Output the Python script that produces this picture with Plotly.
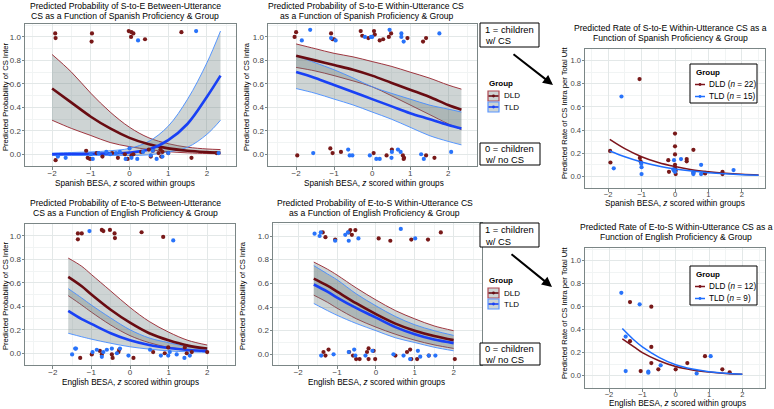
import plotly.graph_objects as go

W, H = 774, 409

# ---------------- data ----------------
# top left: S-to-E between-utterance CS (probability)
tl_x = [-2.0, -1.5, -1.0, -0.5, 0.0, 0.5, 1.0, 1.5, 2.0, 2.35]
tl_dld_fit = [0.56, 0.44, 0.32, 0.22, 0.14, 0.085, 0.05, 0.03, 0.018, 0.012]
tl_dld_lo = [0.29, 0.22, 0.16, 0.10, 0.065, 0.04, 0.022, 0.012, 0.006, 0.004]
tl_dld_hi = [0.85, 0.70, 0.52, 0.36, 0.23, 0.14, 0.09, 0.06, 0.045, 0.04]
tl_tld_fit = [0.0, 0.002, 0.004, 0.008, 0.015, 0.04, 0.12, 0.26, 0.49, 0.67]
tl_tld_lo = [-0.01, -0.01, -0.01, -0.01, -0.01, -0.005, 0.02, 0.06, 0.17, 0.29]
tl_tld_hi = [0.01, 0.015, 0.02, 0.03, 0.05, 0.11, 0.24, 0.47, 0.78, 1.05]
tl_dld_px = [-1.92, -1.91, -0.97, -0.98, -0.02, 0.05, 0.10, 0.04, 0.40, 1.34,
             -1.91, -1.12, -1.08, -1.02, -0.85, -0.70, -0.45, -0.30, -0.12, -0.05, 0.05,
             0.10, 0.30, 0.50, 0.55, 0.60, 0.75, 0.80, 0.82, 0.85, 1.00, 1.60, 2.25]
tl_dld_py = [1.03, 0.99, 1.03, 0.96, 1.05, 1.04, 1.03, 1.00, 0.98, 1.04,
             -0.05, 0.03, -0.03, -0.04, 0.01, -0.02, 0.01, -0.03, 0.00, -0.04, -0.01,
             0.00, 0.02, 0.04, -0.02, 0.03, 0.01, 0.04, -0.02, 0.02, 0.01, -0.03, 0.01]
tl_tld_px = [0.22, 1.72,
             -1.85, -1.65, -1.00, -0.95, -0.80, -0.60, -0.50, -0.35, -0.25, -0.10,
             0.00, 0.05, 0.20, 0.35, 0.55, 0.60, 0.70, 0.85, 1.00, 2.30]
tl_tld_py = [0.97, 1.05,
             -0.02, -0.03, 0.00, -0.04, 0.01, 0.02, 0.00, 0.01, 0.02, -0.04,
             0.05, -0.03, -0.04, 0.02, -0.01, 0.03, -0.04, -0.02, 0.01, 0.01]

# top middle: S-to-E within-utterance CS (probability)
tm_x = [-2.0, -1.5, -1.0, -0.5, 0.0, 0.5, 1.0, 1.5, 2.0, 2.35]
tm_dld_fit = [0.84, 0.80, 0.76, 0.72, 0.67, 0.61, 0.55, 0.49, 0.42, 0.38]
tm_dld_hi = [0.94, 0.90, 0.86, 0.83, 0.79, 0.75, 0.70, 0.65, 0.59, 0.555]
tm_dld_lo = [0.74, 0.71, 0.67, 0.625, 0.575, 0.50, 0.42, 0.34, 0.26, 0.21]
tm_tld_fit = [0.70, 0.65, 0.59, 0.53, 0.47, 0.41, 0.35, 0.30, 0.25, 0.22]
tm_tld_hi = [0.84, 0.78, 0.72, 0.65, 0.575, 0.52, 0.47, 0.42, 0.385, 0.36]
tm_tld_lo = [0.56, 0.52, 0.47, 0.42, 0.36, 0.30, 0.23, 0.16, 0.11, 0.08]
tm_dld_px = [-2.04, -2.00, -1.08, -1.04, -1.00, -0.30, -0.26, -0.10, 0.05, 0.07, 0.20,
             0.29, 0.44, 0.50, 0.93, 1.34, 1.42,
             -1.97, -1.10, -1.04, -0.82, 0.04, 0.38, 0.52, 0.81, 0.84, 0.83, 1.42, 1.64]
tm_dld_py = [1.00, 1.04, 1.03, 0.98, 0.98, 1.05, 1.01, 0.99, 1.05, 1.02, 0.97,
             0.98, 1.00, 1.03, 0.99, 0.96, 0.99,
             -0.01, 0.05, 0.01, 0.02, 0.01, -0.01, 0.04, -0.01, -0.03, -0.04, -0.01, -0.03]
tm_tld_px = [-1.85, -1.63, -1.08, -0.96, -0.19, -0.03, 0.00, 0.46, 0.77, 0.77, 0.83, 1.77,
             -1.55, -0.63, -0.59, -0.52, -0.06, 0.11, 0.20, 0.51, 0.52, 0.68, 0.75,
             1.29, 1.36, 2.08]
tm_tld_py = [0.97, 1.06, 0.99, 0.97, 1.00, 1.00, 1.00, 1.06, 1.03, 1.00, 0.96, 1.03,
             0.01, 0.04, -0.01, -0.01, -0.01, -0.04, -0.04, -0.03, 0.02, 0.04, 0.02,
             0.00, -0.04, 0.02]

# top right: S-to-E within-utterance CS (rate)
tr_x = [-1.95, -1.5, -1.0, -0.5, 0.0, 0.5, 1.0, 1.5, 2.0, 2.5]
tr_dld_fit = [0.32, 0.24, 0.17, 0.12, 0.085, 0.058, 0.04, 0.027, 0.018, 0.012]
tr_tld_fit = [0.22, 0.17, 0.125, 0.09, 0.065, 0.046, 0.032, 0.022, 0.015, 0.011]
tr_dld_px = [-1.94, -1.93, -1.06, -1.05, -1.03, -0.20, -0.18, 0.00, 0.00, 0.00, 0.00,
             0.00, 0.02, 0.02, 0.35, 0.35, 0.55, 0.55, 0.90, 0.90, 1.42, 1.42]
tr_dld_py = [0.22, 0.12, 0.84, 0.16, 0.13, 0.14, 0.04, 0.37, 0.26, 0.19, 0.10,
             0.07, 0.05, 0.02, 0.15, 0.13, 0.23, 0.03, 0.03, 0.025, 0.04, 0.02]
tr_tld_px = [-1.60, -1.83, -1.01, -1.00, -1.00, -0.05, -0.03, -0.03, 0.00, 0.18,
             0.55, 0.55, 0.78, 0.78, 1.75]
tr_tld_py = [0.69, 0.07, 0.11, 0.08, 0.02, 0.06, 0.14, 0.05, 0.04, 0.15,
             0.035, 0.02, 0.10, 0.02, 0.055]

# bottom left: E-to-S between-utterance CS (probability)
bl_x = [-1.6, -1.25, -1.0, -0.5, 0.0, 0.5, 1.0, 1.5, 2.0]
bl_dld_fit = [0.65, 0.57, 0.50, 0.37, 0.26, 0.17, 0.11, 0.065, 0.04]
bl_dld_hi = [0.81, 0.74, 0.67, 0.53, 0.39, 0.27, 0.18, 0.11, 0.07]
bl_dld_lo = [0.49, 0.41, 0.35, 0.24, 0.15, 0.09, 0.05, 0.03, 0.015]
bl_tld_fit = [0.36, 0.29, 0.25, 0.17, 0.11, 0.07, 0.045, 0.028, 0.018]
bl_tld_hi = [0.55, 0.47, 0.41, 0.30, 0.20, 0.13, 0.09, 0.055, 0.035]
bl_tld_lo = [0.17, 0.14, 0.12, 0.085, 0.055, 0.035, 0.02, 0.012, 0.008]
bl_dld_px = [-1.35, -1.35, -1.25, -0.73, -0.69, -0.52, -0.40, -0.39, 0.30, 0.86,
             -1.29, -0.99, -0.78, -0.73, -0.47, -0.45, -0.30, -0.28, 0.09, 0.60,
             0.90, 0.99, 1.42, 1.47, 1.60, 2.00]
bl_dld_py = [1.02, 0.97, 1.02, 1.05, 1.04, 1.05, 1.02, 0.98, 1.03, 0.99,
             -0.04, -0.01, 0.02, -0.01, -0.01, -0.04, 0.01, 0.03, -0.04, 0.01,
             0.00, 0.05, 0.05, 0.00, 0.01, 0.01]
bl_tld_px = [-1.05, 1.12,
             -1.50, -1.42, -1.40, -0.97, -0.86, -0.73, -0.69, -0.60, -0.47, -0.34,
             -0.26, -0.04, 0.52, 0.80, 0.99, 1.03, 1.21, 1.41, 1.55]
bl_tld_py = [1.04, 0.96,
             -0.01, 0.04, 0.04, 0.01, 0.03, -0.03, 0.01, 0.03, 0.04, 0.00,
             0.04, -0.02, 0.03, -0.02, -0.02, 0.01, -0.01, -0.04, -0.02]

# bottom middle: E-to-S within-utterance CS (probability)
bm_x = [-1.6, -1.25, -1.0, -0.5, 0.0, 0.5, 1.0, 1.5, 2.0]
bm_dld_fit = [0.64, 0.58, 0.53, 0.43, 0.34, 0.26, 0.20, 0.155, 0.12]
bm_dld_hi = [0.78, 0.72, 0.67, 0.56, 0.46, 0.37, 0.30, 0.24, 0.20]
bm_dld_lo = [0.50, 0.44, 0.39, 0.30, 0.23, 0.17, 0.12, 0.08, 0.05]
bm_tld_fit = [0.59, 0.53, 0.48, 0.39, 0.31, 0.23, 0.17, 0.125, 0.095]
bm_tld_hi = [0.75, 0.68, 0.63, 0.51, 0.41, 0.32, 0.25, 0.20, 0.16]
bm_tld_lo = [0.43, 0.37, 0.33, 0.26, 0.20, 0.14, 0.10, 0.06, 0.03]
bm_dld_px = [-1.37, -1.30, -1.05, -0.70, -0.66, -0.62, -0.53, 0.07, 0.37, 0.91, 1.34, 1.67,
             -1.35, -1.30, -1.22, -0.69, -0.59, -0.51, -0.42, -0.23, -0.19, -0.19, -0.06,
             -0.02, 0.50, 0.80, 0.88, 0.91, 1.06, 1.36, 2.03]
bm_dld_py = [1.03, 0.99, 0.97, 1.03, 1.05, 1.01, 1.05, 0.98, 0.96, 0.97, 0.97, 1.03,
             0.02, -0.01, 0.04, 0.02, -0.01, -0.04, -0.04, 0.02, 0.05, -0.04, 0.03,
             -0.04, -0.01, 0.02, 0.04, -0.04, -0.04, -0.01, -0.04]
bm_tld_px = [-1.58, -1.45, -1.42, -1.05, -0.79, -0.72, -0.70, -0.45, 0.64, 1.01,
             -1.41, -1.09, -0.70, -0.56, -0.53, -0.27, -0.09, 0.45, 0.71, 0.88, 1.08,
             1.14, 1.36, 1.53]
bm_tld_py = [1.02, 1.00, 1.03, 0.96, 1.01, 1.03, 0.96, 0.98, 1.06, 0.98,
             -0.01, 0.00, 0.02, 0.04, -0.01, -0.01, 0.03, 0.00, -0.01, -0.04, 0.03,
             -0.02, -0.01, -0.01]

# bottom right: E-to-S within-utterance CS (rate)
br_x = [-1.6, -1.25, -1.0, -0.5, 0.0, 0.5, 1.0, 1.5, 2.0]
br_dld_fit = [0.32, 0.25, 0.20, 0.13, 0.08, 0.05, 0.032, 0.02, 0.013]
br_tld_fit = [0.41, 0.31, 0.25, 0.16, 0.095, 0.058, 0.035, 0.021, 0.013]
br_dld_px = [-1.37, -0.73, -1.37, -0.73, -1.05, -0.73, -0.52, 0.00, 0.35, 0.88, 1.40, 1.62]
br_dld_py = [0.64, 0.60, 0.30, 0.25, 0.04, 0.11, 0.055, 0.055, 0.11, 0.17, 0.055, 0.03]
br_tld_px = [-1.63, -1.08, -1.50, -1.50, -0.82, -0.82, -0.45, 0.63, 1.05]
br_tld_py = [0.72, 0.62, 0.34, 0.04, 0.026, 0.035, 0.09, 0.02, 0.17]

# ---------------- styling ----------------
FONT = "Liberation Sans, Arial, sans-serif"
DLD_FIT, DLD_BND, DLD_PT = "rgb(105,12,18)", "rgb(150,35,45)", "rgb(120,25,25)"
TLD_FIT, TLD_BND, TLD_PT = "rgb(25,65,245)", "rgb(70,140,255)", "rgb(40,115,250)"
RIBBON = "rgba(105,125,125,0.33)"


def fx(p):
    return p / W


def fy(p):
    return 1 - p / H


fig = go.Figure()


def add_ribbon(xa, ya, x, lo, hi, bnd):
    fig.add_trace(go.Scatter(x=x, y=lo, mode="lines", xaxis=xa, yaxis=ya,
                             line=dict(color=bnd, width=0.9, shape="spline"), hoverinfo="skip"))
    fig.add_trace(go.Scatter(x=x, y=hi, mode="lines", xaxis=xa, yaxis=ya, fill="tonexty",
                             fillcolor=RIBBON, line=dict(color=bnd, width=0.9, shape="spline"),
                             hoverinfo="skip"))


def add_fit(xa, ya, x, y, col, w):
    fig.add_trace(go.Scatter(x=x, y=y, mode="lines", xaxis=xa, yaxis=ya,
                             line=dict(color=col, width=w, shape="spline")))


def add_pts(xa, ya, x, y, col):
    fig.add_trace(go.Scatter(x=x, y=y, mode="markers", xaxis=xa, yaxis=ya,
                             marker=dict(color=col, size=4.2)))


# probability panels
for xa, ya, x, d, dl, dh, t, tlo, thi, dpx, dpy, tpx, tpy in [
    ("x", "y", tl_x, tl_dld_fit, tl_dld_lo, tl_dld_hi, tl_tld_fit, tl_tld_lo, tl_tld_hi,
     tl_dld_px, tl_dld_py, tl_tld_px, tl_tld_py),
    ("x2", "y2", tm_x, tm_dld_fit, tm_dld_lo, tm_dld_hi, tm_tld_fit, tm_tld_lo, tm_tld_hi,
     tm_dld_px, tm_dld_py, tm_tld_px, tm_tld_py),
    ("x4", "y4", bl_x, bl_dld_fit, bl_dld_lo, bl_dld_hi, bl_tld_fit, bl_tld_lo, bl_tld_hi,
     bl_dld_px, bl_dld_py, bl_tld_px, bl_tld_py),
    ("x5", "y5", bm_x, bm_dld_fit, bm_dld_lo, bm_dld_hi, bm_tld_fit, bm_tld_lo, bm_tld_hi,
     bm_dld_px, bm_dld_py, bm_tld_px, bm_tld_py),
]:
    add_ribbon(xa, ya, x, dl, dh, DLD_BND)
    add_ribbon(xa, ya, x, tlo, thi, TLD_BND)
    add_fit(xa, ya, x, d, DLD_FIT, 2.6)
    add_fit(xa, ya, x, t, TLD_FIT, 2.6)
    add_pts(xa, ya, dpx, dpy, DLD_PT)
    add_pts(xa, ya, tpx, tpy, TLD_PT)

# rate panels
for xa, ya, x, d, t, dpx, dpy, tpx, tpy in [
    ("x3", "y3", tr_x, tr_dld_fit, tr_tld_fit, tr_dld_px, tr_dld_py, tr_tld_px, tr_tld_py),
    ("x6", "y6", br_x, br_dld_fit, br_tld_fit, br_dld_px, br_dld_py, br_tld_px, br_tld_py),
]:
    add_pts(xa, ya, dpx, dpy, DLD_PT)
    add_pts(xa, ya, tpx, tpy, TLD_PT)
    add_fit(xa, ya, x, d, "rgb(125,20,28)", 1.5)
    add_fit(xa, ya, x, t, "rgb(30,110,255)", 1.5)

# panel boxes in pixels: (left, top, right, bottom), x range, y range, rate panel?
panels = [
    ((25, 24, 236, 166), [-2.70, 2.75], [-0.10, 1.11], False),
    ((268, 24, 477, 166), [-2.74, 2.76], [-0.10, 1.11], False),
    ((585, 49, 765, 188), [-2.69, 2.69], [-0.10, 1.10], True),
    ((25, 224, 235, 365), [-2.72, 2.72], [-0.10, 1.10], False),
    ((273, 223, 482, 365), [-2.65, 2.73], [-0.09, 1.11], False),
    ((585, 248, 765, 388), [-2.72, 2.68], [-0.107, 1.11], True),
]

layout = {}
for i, (box, xr, yr, rate) in enumerate(panels, start=1):
    l, t, r, b = box
    sfx = "" if i == 1 else str(i)
    common = dict(showgrid=True, gridcolor="#e3e8e8", gridwidth=0.8,
                  showline=True, mirror=True, linecolor="#7b8686", linewidth=1,
                  ticks="outside", ticklen=2.5, tickcolor="#7b8686", zeroline=False,
                  tickfont=dict(size=7.6 if rate else 8, color="#444444", family=FONT))
    layout["xaxis" + sfx] = dict(common, domain=[fx(l), fx(r)], range=xr, anchor="y" + sfx,
                                 tick0=0, dtick=1, ticklabelstandoff=-4 if rate else -3,
                                 minor=dict(dtick=0.5, showgrid=True, gridcolor="#f1f4f4"))
    layout["yaxis" + sfx] = dict(common, domain=[fy(b), fy(t)], range=yr, anchor="x" + sfx,
                                 tick0=0, dtick=0.2, tickformat=".1f", ticklabelstandoff=-1,
                                 minor=dict(dtick=0.1, showgrid=True, gridcolor="#f1f4f4"))

annotations = []
shapes = []


def text(x, y, s, size, anchor="left", bold=False, angle=0):
    annotations.append(dict(x=fx(x), y=fy(y), xref="paper", yref="paper",
                            text=("<b>%s</b>" % s) if bold else s, showarrow=False,
                            xanchor=anchor, yanchor="middle", textangle=angle,
                            font=dict(size=size, color="black", family=FONT)))


# titles (one annotation per line)
titles = [
    (125, 6, "Predicted Probability of S-to-E Between-Utterance"),
    (125, 16, "CS as a Function of Spanish Proficiency & Group"),
    (366, 6, "Predicted Probability of S-to-E Within-Utterance CS"),
    (367, 16, "as a Function of Spanish Proficiency & Group"),
    (670, 28, "Predicted Rate of S-to-E Within-Utterance CS as a"),
    (670, 38, "Function of Spanish Proficiency & Group"),
    (125, 203, "Predicted Probability of E-to-S Between-Utterance"),
    (125, 213, "CS as a Function of English Proficiency & Group"),
    (375, 203, "Predicted Probability of E-to-S Within-Utterance CS"),
    (374, 213, "as a Function of English Proficiency & Group"),
    (676, 227, "Predicted Rate of E-to-S Within-Utterance CS as a"),
    (676, 237, "Function of English Proficiency & Group"),
]
for cx, cy, txt in titles:
    text(cx, cy, txt, 8.6, anchor="center")

# axis titles
sp_title = "Spanish BESA, <i>z</i> scored within groups"
en_title = "English BESA, <i>z</i> scored within groups"
for cx, cy, txt in [(125, 183, sp_title), (374, 183, sp_title), (675, 203, sp_title),
                    (130, 382, en_title), (376, 382, en_title), (677, 403.2, en_title)]:
    text(cx, cy, txt, 8.2, anchor="center")
for cx, cy, txt in [(5, 97, "Predicted Probability of CS Inter"),
                    (246, 97, "Predicted Probability of CS Intra"),
                    (564, 113, "Predicted Rate of CS Intra per Total Utt"),
                    (5, 296, "Predicted Probability of CS Inter"),
                    (242, 296, "Predicted Probability of CS Intra"),
                    (564, 313, "Predicted Rate of CS Intra per Total Utt")]:
    text(cx, cy, txt, 7.6, anchor="center", angle=-90)


def rect(l, t, r, b, line="black", fill="white", w=1):
    shapes.append(dict(type="rect", xref="paper", yref="paper", x0=fx(l), x1=fx(r),
                       y0=fy(b), y1=fy(t), line=dict(color=line, width=w), fillcolor=fill))


def hline(x0, x1, y, col, w):
    shapes.append(dict(type="line", xref="paper", yref="paper", x0=fx(x0), x1=fx(x1),
                       y0=fy(y), y1=fy(y), line=dict(color=col, width=w)))


def dot(x, y, col, r=1.6):
    shapes.append(dict(type="circle", xref="paper", yref="paper", x0=fx(x - r), x1=fx(x + r),
                       y0=fy(y + r), y1=fy(y - r), line=dict(width=0), fillcolor=col))


# "1 = children" / "0 = children" boxes, group keys and arrows beside the middle panels
for top, key_y, zero_top, arrow in [(23, 83, 143, (512, 53, 553, 85)),
                                    (223, 280, 343, (510, 253, 552, 287))]:
    rect(480, top, 539, top + 24)
    text(483, top + 6.5, "1 = children", 9.4)
    text(483, top + 18, "w/ CS", 9.4)
    rect(480, zero_top, 540, zero_top + 22)
    text(483, zero_top + 5.5, "0 = children", 9.4)
    text(483, zero_top + 16.5, "w/ no CS", 9.4)
    text(487, key_y, "Group", 8, bold=True)
    for k, (bnd, fit) in enumerate([("rgb(175,70,80)", DLD_FIT), ("rgb(90,150,255)", TLD_FIT)]):
        kt = key_y + 8 + k * 11
        rect(488, kt, 499, kt + 10, line=bnd, fill="rgb(205,212,212)", w=1.2)
        hline(488.5, 498.5, kt + 5, fit, 1.6)
        dot(493.5, kt + 5, fit, 1.4)
        text(502, kt + 5, ["DLD", "TLD"][k], 8)
    ax0, ay0, ax1, ay1 = arrow
    annotations.append(dict(x=fx(ax1), y=fy(ay1), xref="paper", yref="paper", text="",
                            showarrow=True, ax=ax0 - ax1, ay=ay0 - ay1, arrowhead=2,
                            arrowsize=1, arrowwidth=2, arrowcolor="black"))

# legends inside the rate panels
for top, n_dld, n_tld in [(64, 22, 15), (266, 12, 9)]:
    rect(690, top, 757, top + 39, w=1)
    text(694, top + 8.5, "Group", 8, bold=True)
    for k, (col, lab) in enumerate([("rgb(125,20,28)", "DLD (<i>n</i> = %d)" % n_dld),
                                    ("rgb(30,110,255)", "TLD (<i>n</i> = %d)" % n_tld)]):
        ry = top + 20.5 + k * 12
        hline(695, 705, ry, col, 1.5)
        dot(700, ry, col, 1.4)
        text(707, ry, lab, 8.2)

fig.update_layout(
    width=W, height=H,
    margin=dict(l=0, r=0, t=0, b=0),
    paper_bgcolor="white", plot_bgcolor="white",
    showlegend=False,
    font=dict(family=FONT),
    annotations=annotations,
    shapes=shapes,
    **layout,
)

# the page body has a default 8px margin; drop it so the figure fills the window
fig.write_html("out.html", config={"displayModeBar": False},
               post_script="document.body.style.margin='0';document.body.style.overflow='hidden';")
